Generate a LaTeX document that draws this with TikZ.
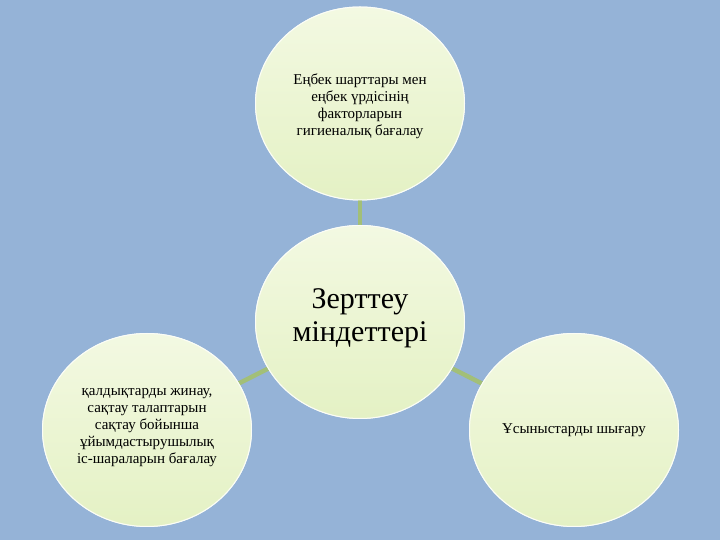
\documentclass[tikz,border=0pt]{standalone}
\usepackage{fontspec}
\setmainfont{Liberation Serif}
\usetikzlibrary{shapes.geometric}
\definecolor{bgblue}{HTML}{95B3D7}
\definecolor{circtop}{HTML}{F3F9E2}
\definecolor{circbot}{HTML}{E4F1C4}
\definecolor{linkgreen}{HTML}{A2BF78}
\begin{document}
\begin{tikzpicture}[x=1pt,y=1pt,
  bubble/.style={ellipse, minimum width=209pt, minimum height=193pt, inner sep=0pt,
    top color=circtop, bottom color=circbot, draw=white!70!circtop, line width=1pt,
    align=center, text=black},
  smalltxt/.style={font=\fontsize{15}{17}\selectfont},
  bigtxt/.style={font=\fontsize{30}{33}\selectfont},
  link/.style={draw=linkgreen, line width=4.5pt}]
\useasboundingbox (0,0) rectangle (720,540);
\fill[bgblue] (0,0) rectangle (720,540);
\node[bubble] (c) at (360,218) {};
\node[bubble] (t) at (360,436.5) {};
\node[bubble] (l) at (147,110) {};
\node[bubble] (r) at (574,110) {};
\draw[link] (t) -- (c);
\draw[link] (l) -- (c);
\draw[link] (r) -- (c);
\node[bubble] at (c) {};
\node[bubble] at (t) {};
\node[bubble] at (l) {};
\node[bubble] at (r) {};
\node[bigtxt, align=center] (ct) at (360,222) {Зерттеу\\міндеттері};
\node[smalltxt, align=center] (tt) at (360,434) {Еңбек шарттары мен\\еңбек үрдісінің\\факторларын\\гигиеналық бағалау};
\node[smalltxt, align=center] (lt) at (147,112) {қалдықтарды жинау,\\сақтау талаптарын\\сақтау бойынша\\ұйымдастырушылық\\іс-шараларын бағалау};
\node[smalltxt, align=center] (rt) at (574,110) {Ұсыныстарды шығару};
\end{tikzpicture}
\end{document}
